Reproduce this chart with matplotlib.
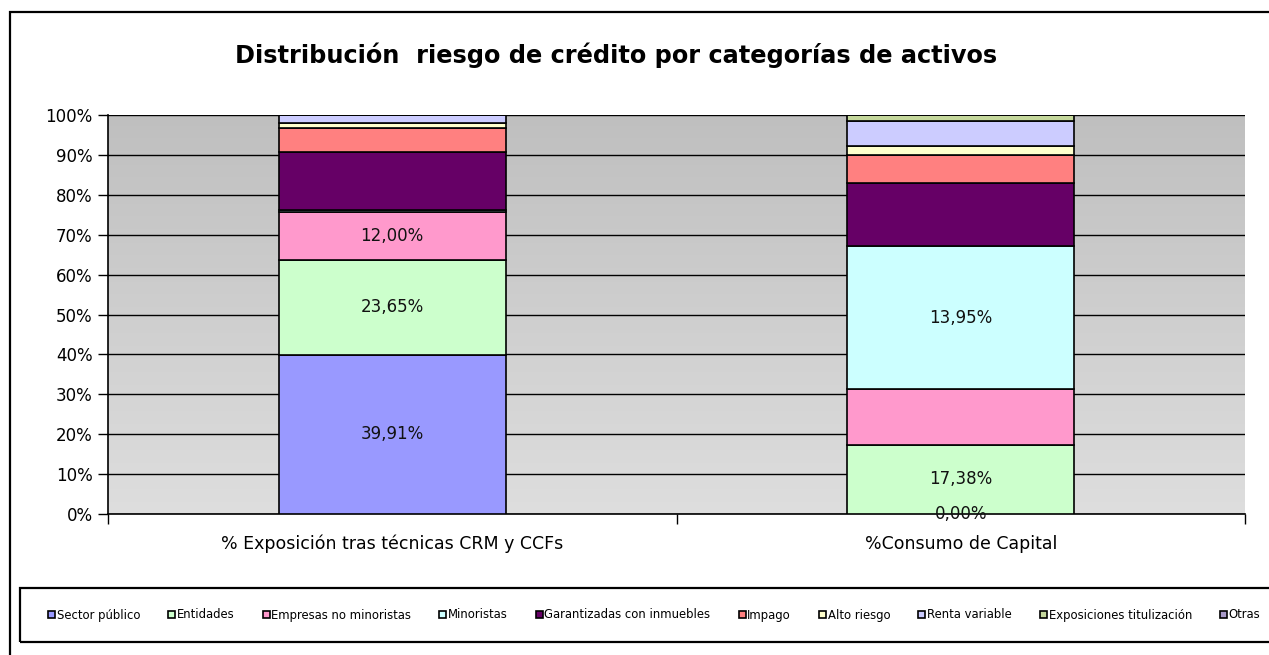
import numpy as np
import matplotlib.pyplot as plt
from matplotlib.patches import Rectangle

# === Data === #
columns = ['% Exposición tras técnicas CRM y CCFs', '%Consumo de Capital']
series = ['Sector público', 'Entidades', 'Empresas no minoristas', 'Minoristas',
          'Garantizadas con inmuebles', 'Impago', 'Alto riesgo', 'Renta variable',
          'Exposiciones titulización', 'Otras']
exposicion = [39.91, 23.65, 12.00, 0.5, 14.6, 5.9, 1.3, 2.0, 0.0, 0.0]
consumo = [0.00, 17.38, 13.9, 35.9, 15.8, 7.0, 2.3, 6.2, 1.5, 0.0]
colors = ['#9999ff', '#ccffcc', '#ff99cc', '#ccffff', '#660066',
          '#ff8080', '#ffffcc', '#ccccff', '#c4d79b', '#a899c8']

# data labels shown in the chart: (column, series index, text)
labels = [(0, 0, '39,91%'), (0, 1, '23,65%'), (0, 2, '12,00%'),
          (1, 0, '0,00%'), (1, 1, '17,38%'), (1, 3, '13,95%')]

title = 'Distribución  riesgo de crédito por categorías de activos'

# === Figure === #
W, H = 1269, 655
fig = plt.figure(figsize=(W / 100, H / 100), dpi=100)
plt.rcParams['font.family'] = ['DejaVu Sans']

ax = fig.add_axes([108 / W, 1 - 514 / H, (1245 - 108) / W, (514 - 115) / H])

# gradient plot background, darker at top
grad = np.linspace(0, 1, 256).reshape(-1, 1)
top_c = np.array([0.75, 0.75, 0.75])
bot_c = np.array([0.87, 0.87, 0.87])
img = top_c + (bot_c - top_c) * grad
img = np.repeat(img[:, np.newaxis, :], 2, axis=1)
ax.imshow(img, extent=[-0.5, 1.5, 0, 100], aspect='auto', origin='upper', zorder=0)

# stacked 100% bars
data = np.array([exposicion, consumo], dtype=float)
data = data / data.sum(axis=1, keepdims=True) * 100
x = np.arange(len(columns))
bottom = np.zeros(len(columns))
for i, name in enumerate(series):
    ax.bar(x, data[:, i], 0.4, bottom=bottom, color=colors[i],
           edgecolor='black', linewidth=1.2, label=name, zorder=3)
    bottom += data[:, i]

for col, idx, txt in labels:
    y0 = data[col, :idx].sum()
    ax.text(x[col], y0 + data[col, idx] / 2, txt, ha='center', va='center',
            fontsize=12, color='#111111', zorder=5)

ax.set_xlim(-0.5, 1.5)
ax.set_ylim(0, 100)
ax.set_yticks(np.arange(0, 101, 10))
ax.set_yticklabels([f'{v}%' for v in range(0, 101, 10)], fontsize=12)
ax.yaxis.grid(True, color='black', linewidth=1.0, zorder=1)
ax.set_axisbelow(True)
ax.tick_params(axis='y', direction='out', length=7, width=1, pad=4)

ax.set_xticks([-0.5, 0.5, 1.5])
ax.set_xticklabels([])
ax.tick_params(axis='x', direction='out', length=7, width=1)
ax.set_xticks(x, minor=True)
ax.set_xticklabels(columns, minor=True, fontsize=12.5)
ax.tick_params(axis='x', which='minor', length=0, pad=15)

for side in ['top', 'right']:
    ax.spines[side].set_visible(False)
ax.spines['left'].set_linewidth(1.2)
ax.spines['bottom'].set_linewidth(1.2)

fig.text(616 / W, 1 - 55 / H, title, ha='center', va='center',
         fontsize=17.3, fontweight='bold')

# outer chart border (runs off right and bottom)
fig.patches.append(Rectangle((10 / W, -0.1), 1.2, 1 - 12 / H + 0.1,
                             transform=fig.transFigure, fill=False,
                             edgecolor='black', linewidth=1.6))
# legend border
fig.patches.append(Rectangle((20 / W, 1 - 642 / H), 1.2, 54 / H,
                             transform=fig.transFigure, fill=False,
                             edgecolor='black', linewidth=1.6))

fig.legend(loc='center left', bbox_to_anchor=(48 / W, 1 - 615 / H), ncol=10,
           frameon=False, fontsize=8.4, handlelength=0.6, handleheight=0.6,
           handletextpad=0.15, columnspacing=2.4, borderpad=0, borderaxespad=0)

fig.savefig('out.png', dpi=100)
